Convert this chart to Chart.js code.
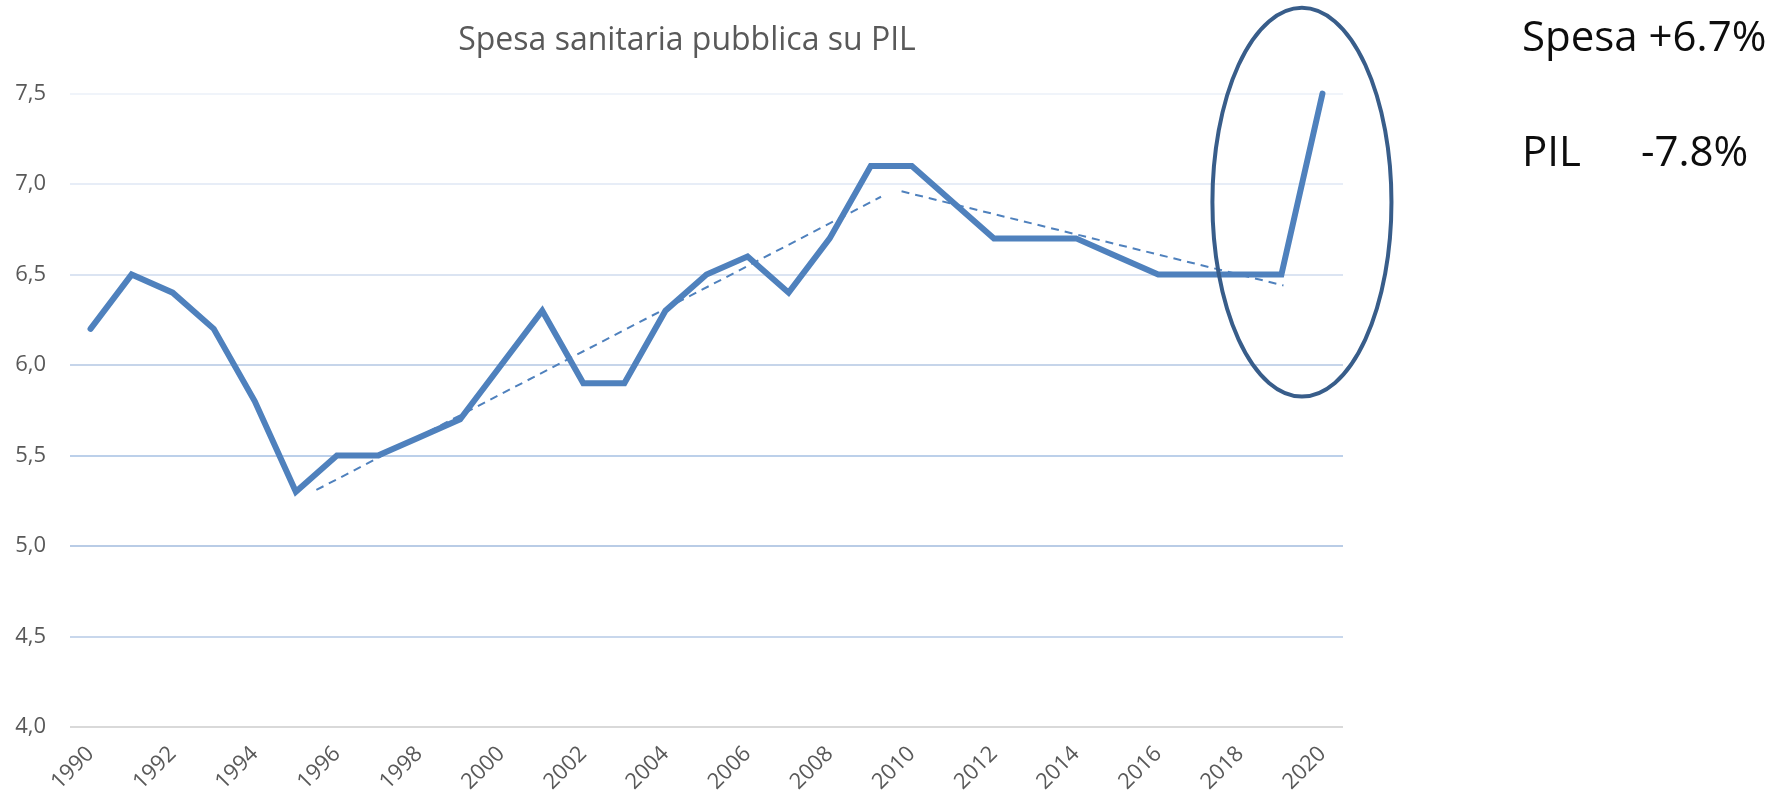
<!DOCTYPE html>
<html>
<head>
<meta charset="utf-8">
<script src="https://cdn.jsdelivr.net/npm/chart.js@4"></script>
<style>
  html, body { margin: 0; padding: 0; background: #ffffff; }
  #wrap { position: relative; width: 1789px; height: 791px; overflow: hidden; }
  #c { position: absolute; left: 0; top: 0; }
  .note { position: absolute; font-family: "Open Sans", sans-serif; font-size: 42px; line-height: 42px; color: #0d0d0d; white-space: pre; }
</style>
</head>
<body>
<div id="wrap">
  <canvas id="c" width="1789" height="791"></canvas>
  <div class="note" style="left:1522px; top:14px;">Spesa +6.7%</div>
  <div class="note" style="left:1522px; top:129px;">PIL</div>
  <div class="note" style="left:1641px; top:129px;">-7.8%</div>
</div>
<script>
// ---- data ----
const years = [1990,1991,1992,1993,1994,1995,1996,1997,1998,1999,2000,2001,2002,2003,2004,2005,2006,2007,2008,2009,2010,2011,2012,2013,2014,2015,2016,2017,2018,2019,2020];
const spesaSuPil = [6.2,6.5,6.4,6.2,5.8,5.3,5.5,5.5,5.6,5.7,6.0,6.3,5.9,5.9,6.3,6.5,6.6,6.4,6.7,7.1,7.1,6.9,6.7,6.7,6.7,6.6,6.5,6.5,6.5,6.5,7.5];
const trend1Years = [1995.5, 2009.25];
const trend1Values = [5.31, 6.93];
const trend2Years = [2009.75, 2019.05];
const trend2Values = [6.96, 6.44];
const yTickValues = [4.0, 4.5, 5.0, 5.5, 6.0, 6.5, 7.0, 7.5];
const titleText = 'Spesa sanitaria pubblica su PIL';
// highlight ellipse (data units): centre year/value, half-width in years, half-height in value
const ellipseCenter = [2019.5, 6.90];
const ellipseRadius = [2.18, 1.074];

const labels = years.map(String);
const gridColors = {'4':'#d9d9d9','4.5':'#c8d7ec','5':'#b9cce6','5.5':'#bcd0ea','6':'#c6d5ea','6.5':'#dbe4f2','7':'#e7edf7','7.5':'#f0f4fa'};

const ellipsePlugin = {
  id: 'ellipse',
  afterDatasetsDraw(chart) {
    const xs = chart.scales.xt, ys = chart.scales.y, ctx = chart.ctx;
    const cx = xs.getPixelForValue(ellipseCenter[0]);
    const cy = ys.getPixelForValue(ellipseCenter[1]);
    const rx = Math.abs(xs.getPixelForValue(ellipseCenter[0] + ellipseRadius[0]) - cx);
    const ry = Math.abs(ys.getPixelForValue(ellipseCenter[1] + ellipseRadius[1]) - cy);
    ctx.save();
    ctx.beginPath();
    ctx.ellipse(cx, cy, rx, ry, 0, 0, Math.PI * 2);
    ctx.strokeStyle = '#385D8A';
    ctx.lineWidth = 4;
    ctx.stroke();
    ctx.restore();
  }
};

new Chart(document.getElementById('c'), {
  type: 'line',
  data: {
    labels: labels,
    datasets: [
      {
        data: spesaSuPil,
        borderColor: '#4F81BD',
        borderWidth: 6,
        pointRadius: 0,
        tension: 0,
        borderJoinStyle: 'miter',
        borderCapStyle: 'round',
        clip: false,
        xAxisID: 'x', yAxisID: 'y'
      },
      {
        data: trend1Years.map((x, i) => ({x: x, y: trend1Values[i]})),
        borderColor: '#4F81BD',
        borderWidth: 2,
        borderDash: [8, 6],
        pointRadius: 0,
        xAxisID: 'xt', yAxisID: 'y'
      },
      {
        data: trend2Years.map((x, i) => ({x: x, y: trend2Values[i]})),
        borderColor: '#4F81BD',
        borderWidth: 2,
        borderDash: [8, 6],
        pointRadius: 0,
        xAxisID: 'xt', yAxisID: 'y'
      }
    ]
  },
  options: {
    responsive: false,
    animation: false,
    events: [],
    layout: { padding: { left: 0, right: 415, top: 0, bottom: 0 } },
    plugins: {
      legend: { display: false },
      tooltip: { enabled: false },
      title: {
        display: true,
        text: titleText,
        color: '#595959',
        font: { family: 'Open Sans', size: 32, weight: 'normal', lineHeight: 1.2 },
        padding: { top: 22, bottom: 33.2 }
      }
    },
    scales: {
      x: {
        type: 'category',
        offset: true,
        grid: { display: false, drawTicks: false },
        border: { display: false },
        ticks: {
          autoSkip: false,
          maxRotation: 45, minRotation: 45,
          color: '#595959',
          font: { family: 'Open Sans', size: 22 },
          padding: 14,
          callback: function(v, i) { return i % 2 === 0 ? labels[i] : ''; }
        },
        afterFit: function(s) { s.height = 64; }
      },
      xt: {
        type: 'linear',
        display: false,
        min: years[0] - 0.5,
        max: years[years.length - 1] + 0.5
      },
      y: {
        type: 'linear',
        position: 'left',
        min: yTickValues[0],
        max: yTickValues[yTickValues.length - 1],
        afterBuildTicks: function(s) { s.ticks = yTickValues.map(v => ({value: v})); },
        grid: {
          drawTicks: false,
          lineWidth: 2,
          color: function(ctx) { return gridColors[String(ctx.tick.value)] || '#d9e3f1'; }
        },
        border: { display: false },
        ticks: {
          color: '#595959',
          font: { family: 'Open Sans', size: 22 },
          padding: 24,
          callback: function(v) { return v.toFixed(1).replace('.', ','); }
        },
        afterFit: function(s) { s.width = 70; }
      },
      y2: {
        type: 'linear',
        position: 'right',
        display: true,
        grid: { display: false, drawTicks: false },
        border: { display: false },
        ticks: { display: false },
        afterFit: function(s) { s.width = 31; }
      }
    }
  },
  plugins: [ellipsePlugin]
});
</script>
</body>
</html>
